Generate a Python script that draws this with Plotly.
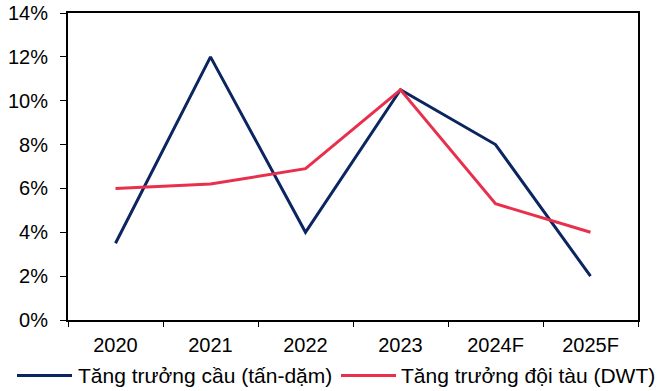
import plotly.graph_objects as go

years = ["2020", "2021", "2022", "2023", "2024F", "2025F"]
demand_growth = [3.5, 12.0, 4.0, 10.5, 8.0, 2.0]
fleet_growth = [6.0, 6.2, 6.9, 10.5, 5.3, 4.0]
y_ticks = [0, 2, 4, 6, 8, 10, 12, 14]

series_names = ["Tăng trưởng cầu (tấn-dặm)", "Tăng trưởng đội tàu (DWT)"]
series_colors = ["#0b2560", "#e8304d"]

font = dict(family="Liberation Sans, Arial, sans-serif", size=20, color="#000000")
legend_font = dict(family="Liberation Sans, Arial, sans-serif", size=21, color="#000000")

W, H = 659, 391
ML, MR, MT, MB = 68, 21, 13, 71
PW, PH = W - ML - MR, H - MT - MB

fig = go.Figure()
for name, vals, color in zip(series_names, [demand_growth, fleet_growth], series_colors):
    fig.add_trace(go.Scatter(
        x=years, y=vals, mode="lines", name=name,
        line=dict(color=color, width=3), showlegend=False,
    ))

# Legend drawn below the axis as line swatches with labels (pixel positions -> paper coords)
def px_x(px):
    return (px - ML) / PW

def px_y(py):
    return (H - MB - py) / PH

legend_y = px_y(375.5)
legend_items = [(17, 72, 76), (341, 396, 399)]
for (x0, x1, xt), name, color in zip(legend_items, series_names, series_colors):
    fig.add_shape(type="line", xref="paper", yref="paper",
                  x0=px_x(x0), x1=px_x(x1), y0=legend_y, y1=legend_y,
                  line=dict(color=color, width=3))
    fig.add_annotation(xref="paper", yref="paper", x=px_x(xt), y=legend_y,
                       xanchor="left", yanchor="middle", text=name,
                       showarrow=False, font=legend_font)

fig.update_layout(
    width=W, height=H,
    margin=dict(l=ML, r=MR, t=MT, b=MB, autoexpand=False),
    paper_bgcolor="white", plot_bgcolor="white",
    font=font,
    showlegend=False,
)
fig.update_xaxes(
    type="category", range=[-0.5, 5.5],
    showline=True, linecolor="black", linewidth=2, mirror=True,
    ticks="outside", tickson="boundaries", ticklen=5, tickcolor="black", tickwidth=1,
    ticklabelstandoff=6,
    showgrid=False, tickfont=font,
)
fig.update_yaxes(
    range=[0, 14], tickvals=y_ticks, ticktext=[f"{v}%" for v in y_ticks],
    showline=True, linecolor="black", linewidth=2, mirror=True,
    ticks="outside", ticklen=6, tickcolor="black", tickwidth=1,
    ticklabelstandoff=8,
    showgrid=False, zeroline=False, tickfont=font,
)

fig.write_html("out.html")
